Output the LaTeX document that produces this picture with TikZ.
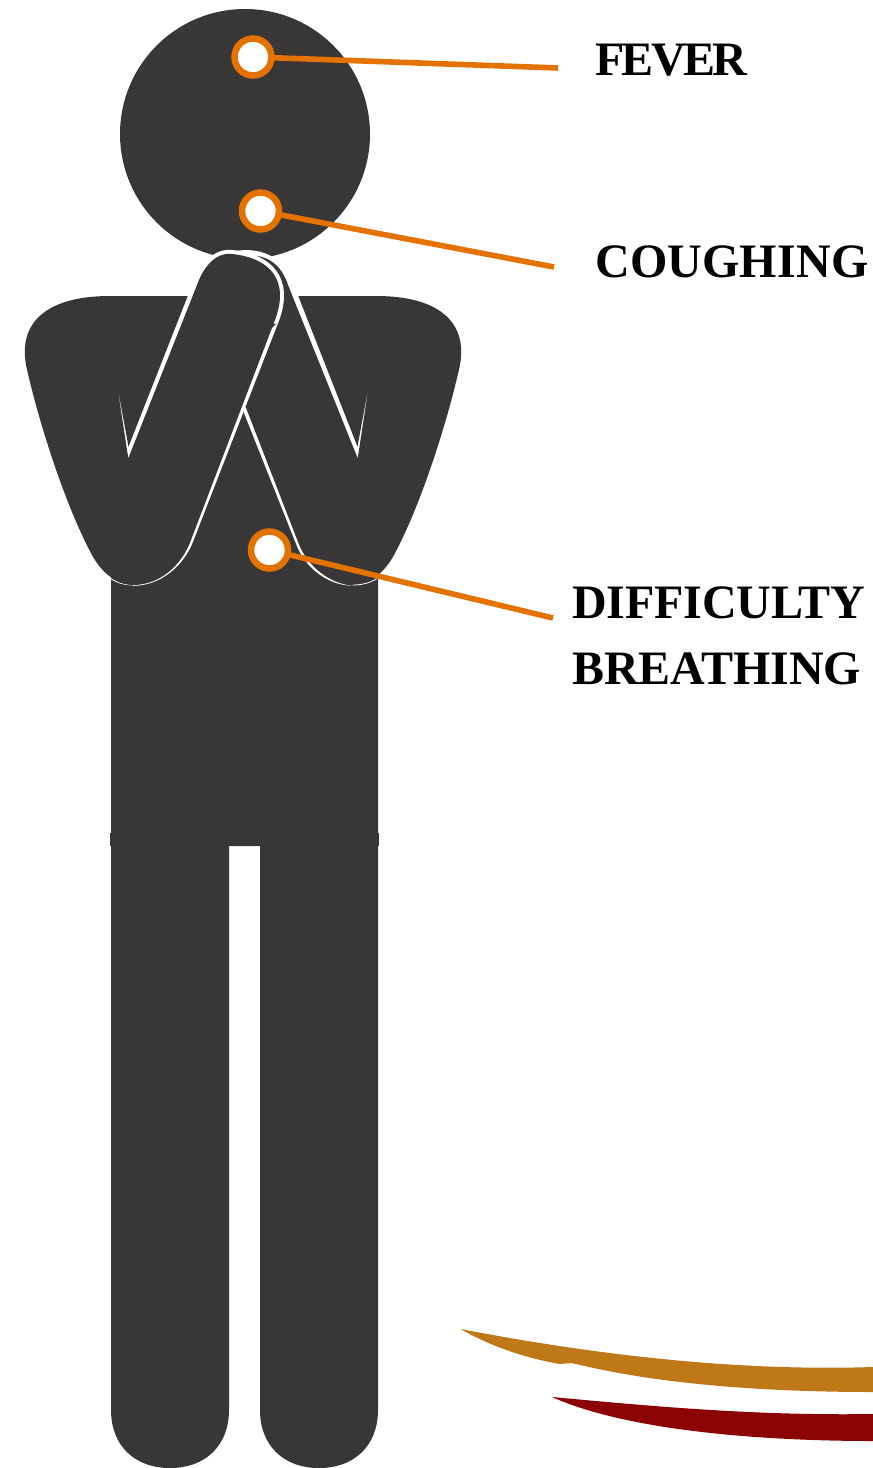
\documentclass[tikz,border=0pt]{standalone}
\usepackage{fontspec}
\setmainfont{Liberation Serif}
\definecolor{figdark}{HTML}{383637}
\definecolor{markorange}{HTML}{E47200}
\definecolor{swoopgold}{HTML}{BF7818}
\definecolor{swoopred}{HTML}{8B0304}
\begin{document}
\begin{tikzpicture}[x=1pt,y=-1pt,figure/.style={fill=figdark},gap/.style={draw=white,line cap=round},
    marker/.style={circle,draw=markorange,fill=white,line width=6.5pt,minimum size=37pt,inner sep=0pt,outer sep=0pt},
    leader/.style={draw=markorange,line width=5.6pt},
    symptom/.style={anchor=base west,font=\bfseries\fontsize{48}{66}\selectfont\addfontfeature{LetterSpace=#1},align=left,inner sep=0pt}]
  \useasboundingbox (0,0) rectangle (873,1468);
  \fill[figure] (245,134) circle[radius=125pt];
  \fill[figure] (110.3,833) rectangle (378.7,846);
  \fill[figure] (111,570) -- (170,540) -- (243,400) -- (310,540) -- (378,570)
    -- (378,1410) .. controls (378,1445) and (355,1468) .. (319,1468)
    .. controls (283,1468) and (260,1445) .. (260,1410) -- (260,846) -- (229,846) -- (229,1410)
    .. controls (229,1445) and (206,1468) .. (170,1468)
    .. controls (134,1468) and (111,1445) .. (111,1410) -- cycle;
  \draw[gap,line width=7pt] (222,258) .. controls (245,250) and (275,250) .. (291,283);
  \fill[figure] (298.3,296) -- (376,296) .. controls (436,296) and (468,320) .. (460,365)
    .. controls (448,420) and (421,505) .. (394,555) .. controls (386,570) and (371,585) .. (353,585)
    .. controls (330,585) and (306,568) .. (297,543) -- (215,335) -- (225,270)
    .. controls (235,252) and (275,245) .. (288,285)
    -- (357.7,458.3) -- (369.2,383) -- (357.5,446.7) -- cycle;
  \fill[white] (242.3,408.7) -- (295.9,543.5) .. controls (305,569) and (330,586) .. (353,585.7)
    .. controls (331,584.5) and (307,567) .. (298.1,542.5) -- (245.7,407.3) -- cycle;
  \draw[gap,line width=.8pt] (353,585) .. controls (362,585) and (370,583) .. (378,578);
  \draw[gap,line width=8pt] (197,285) .. controls (203,268) and (215,252) .. (232,254)
    .. controls (270,258) and (290,280) .. (275,320);
  \fill[white] (278.7,321.4) -- (193.3,540.9) .. controls (184,566) and (160,586) .. (133,585.8)
    -- (200,500) -- (260,340) -- cycle;
  \draw[gap,line width=.8pt] (133,585) .. controls (125,585) and (117,583) .. (110,578);
  \fill[figure] (187.7,296) -- (110,296) .. controls (50,296) and (18,320) .. (26,365)
    .. controls (38,420) and (65,505) .. (92,555) .. controls (100,570) and (115,585) .. (133,585)
    .. controls (160,585) and (182,565) .. (191,540) -- (275,320)
    .. controls (290,280) and (270,258) .. (232,254) .. controls (215,252) and (203,268) .. (197,285)
    -- (128.3,458.3) -- (116.8,383) -- (128.5,446.7) -- cycle;
  \fill[swoopgold] (460.5,1329) .. controls (570,1350) and (720,1372) .. (873,1367) -- (873,1392)
    .. controls (770,1392) and (660,1385) .. (572,1363) -- (560,1364)
    .. controls (525,1358) and (490,1346) .. cycle;
  \fill[swoopred] (552,1397) .. controls (640,1405) and (750,1416) .. (873,1414) -- (873,1441)
    .. controls (770,1441) and (630,1432) .. cycle;
  \coordinate (feverend) at (558,68);
  \coordinate (coughend) at (554,267);
  \coordinate (breathend) at (553,618);
  \node[marker] (feverdot) at (253,57) {};
  \node[marker] (coughdot) at (260.5,211) {};
  \node[marker] (breathdot) at (269.5,550) {};
  \draw[leader] (feverdot) -- (feverend);
  \draw[leader] (coughdot) -- (coughend);
  \draw[leader] (breathdot) -- (breathend);
  \node[symptom=-5.6] (fever) at (595,75) {FEVER};
  \node[symptom=0.4] (cough) at (595,277) {COUGHING};
  \node[symptom=-0.3] (breath) at (572,684) {DIFFICULTY\\BREATHING};
\end{tikzpicture}
\end{document}
